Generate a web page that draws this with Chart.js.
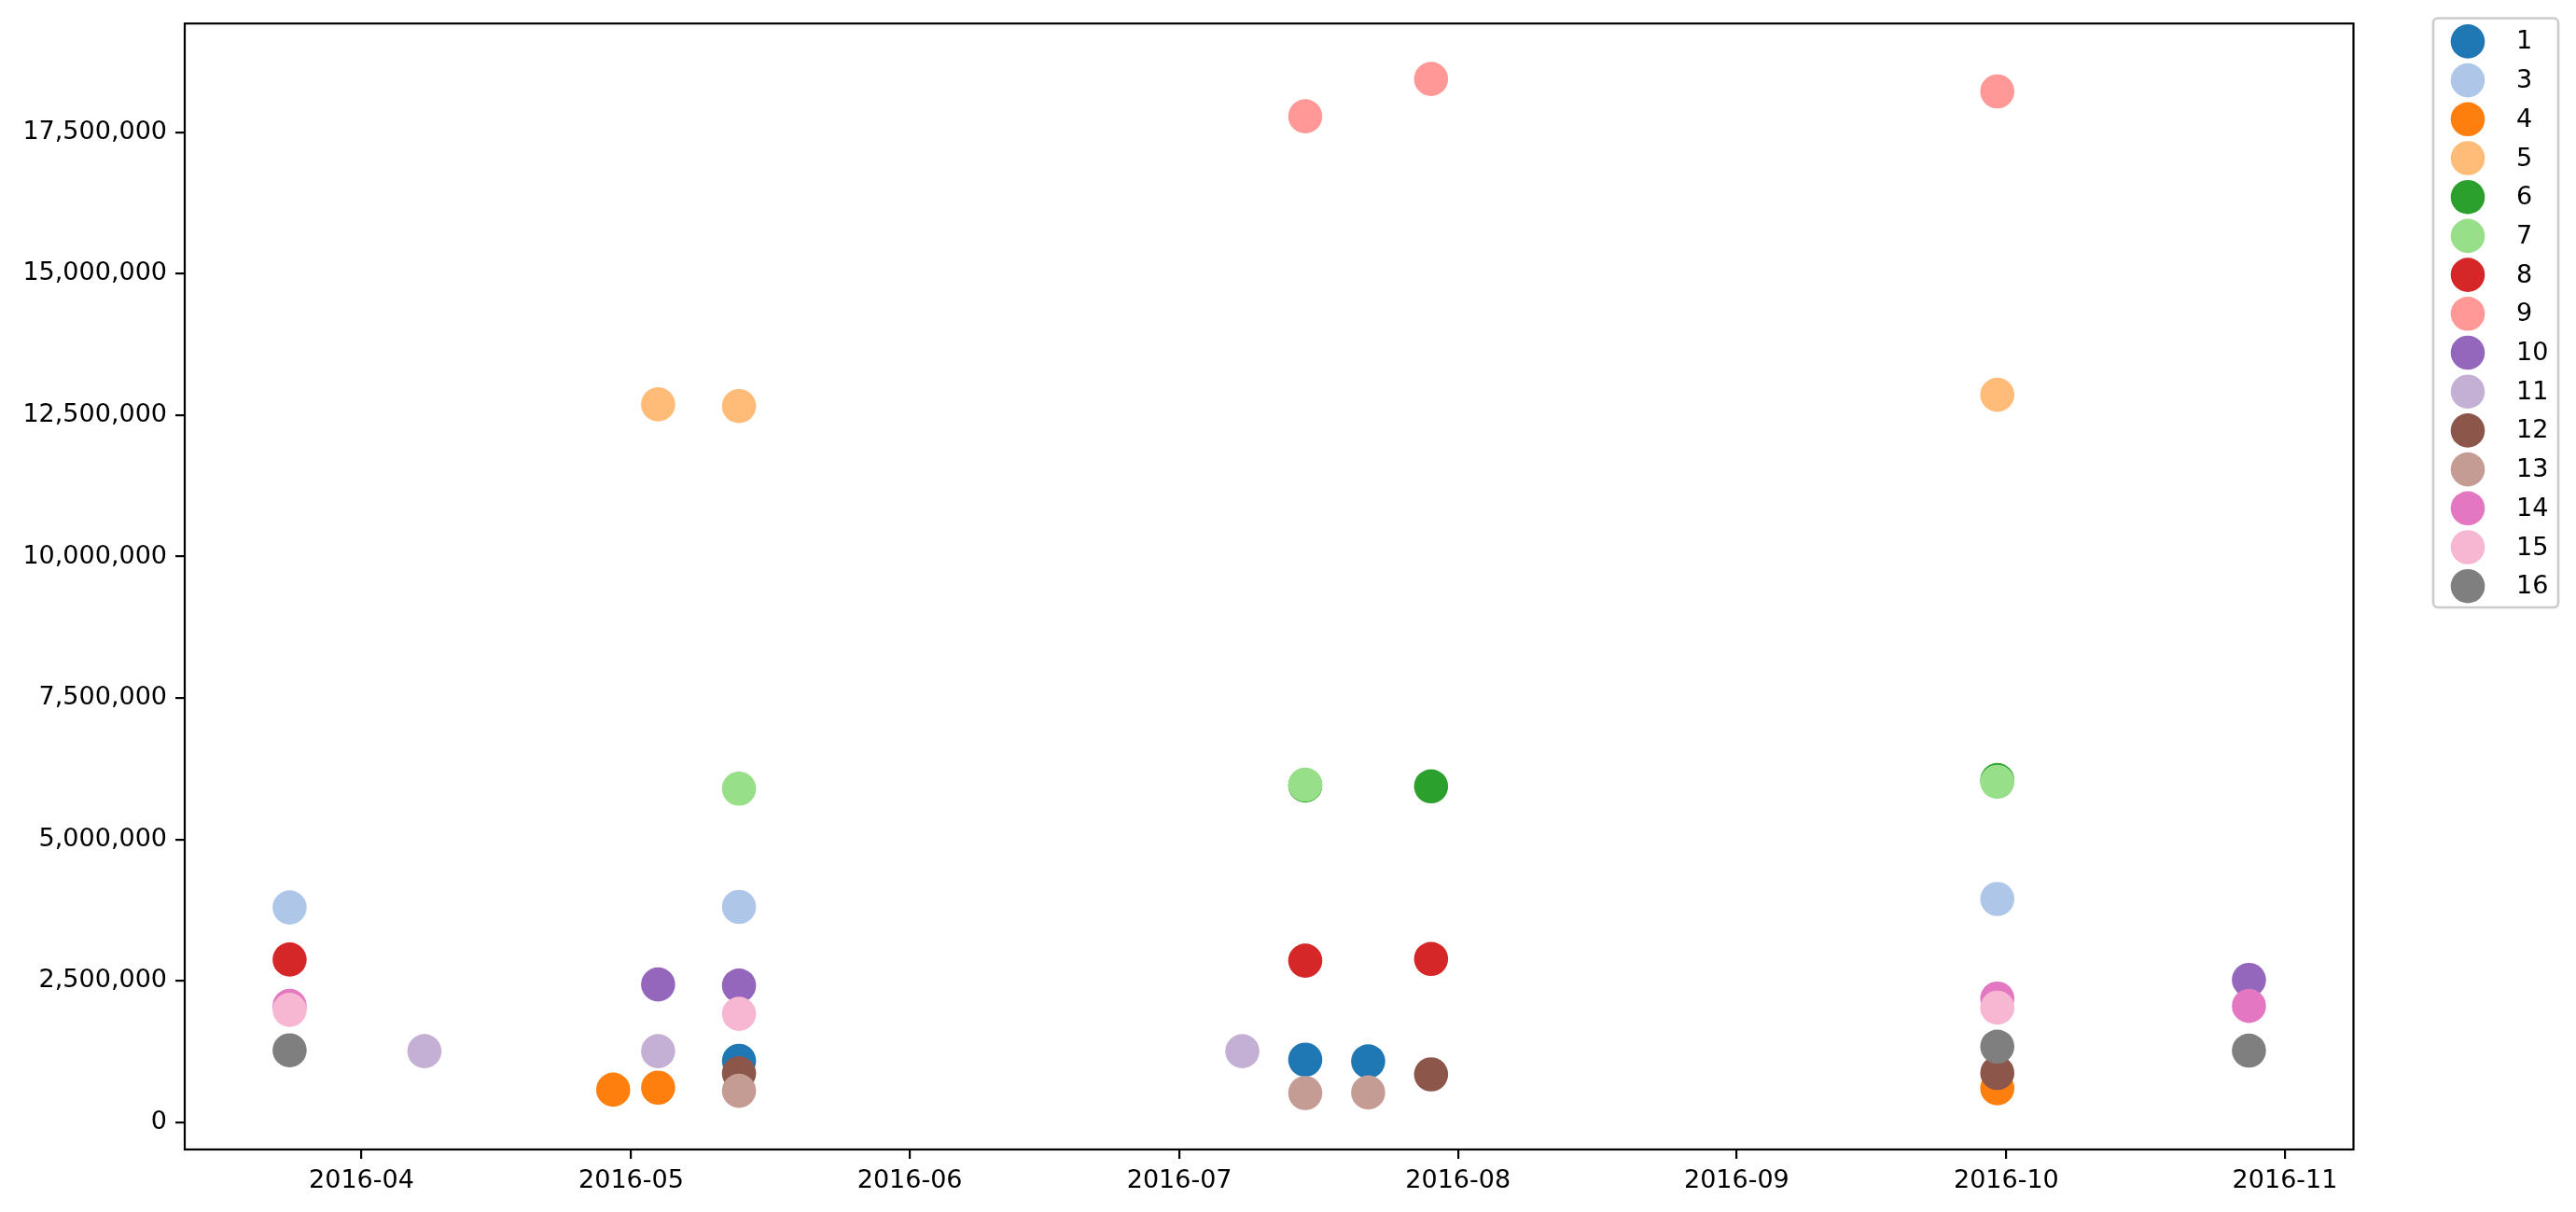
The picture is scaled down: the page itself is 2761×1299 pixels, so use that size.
<!DOCTYPE html>
<html>
<head>
<meta charset="utf-8">
<script src="https://cdn.jsdelivr.net/npm/chart.js@4.4.1/dist/chart.umd.min.js"></script>
<style>
    html, body { margin: 0; padding: 0; background: #fff; }
    #wrap { width: 2761px; height: 1299px; position: relative; }
</style>
</head>
<body>
<div id="wrap"><canvas id="scatterChart"></canvas></div>
<script>
// observation dates (one column of points per date)
const dates = ['2016-03-24', '2016-04-08', '2016-04-29', '2016-05-04', '2016-05-13',
    '2016-07-08', '2016-07-15', '2016-07-22', '2016-07-29', '2016-09-30', '2016-10-28'];

// month ticks on the x axis, value ticks on the y axis
const monthTicks = ['2016-04', '2016-05', '2016-06', '2016-07', '2016-08', '2016-09', '2016-10', '2016-11'];
const valueTicks = [0, 2500000, 5000000, 7500000, 10000000, 12500000, 15000000, 17500000];

const seriesLabels = ['1', '3', '4', '5', '6', '7', '8', '9', '10', '11', '12', '13', '14', '15', '16'];
const seriesColors = ['#1f77b4', '#aec7e8', '#ff7f0e', '#ffbb78', '#2ca02c', '#98df8a', '#d62728', '#ff9896',
    '#9467bd', '#c5b0d5', '#8c564b', '#c49c94', '#e377c2', '#f7b6d2', '#7f7f7f'];

// values per date (null = no point that day)
const s1  = [null, null, null, null, 1090000, null, 1110000, 1080000, null, null, null];
const s3  = [3800000, null, null, null, 3810000, null, null, null, null, 3950000, null];
const s4  = [null, null, 580000, 615000, null, null, null, null, null, 605000, null];
const s5  = [null, null, null, 12690000, 12660000, null, null, null, null, 12860000, null];
const s6  = [null, null, null, null, null, null, 5955000, null, 5940000, 6050000, null];
const s7  = [null, null, null, null, 5900000, null, 5970000, null, null, 6020000, null];
const s8  = [2880000, null, null, null, null, null, 2860000, null, 2890000, null, null];
const s9  = [null, null, null, null, null, null, 17780000, null, 18440000, 18220000, null];
const s10 = [null, null, null, 2440000, 2420000, null, null, null, null, null, 2520000];
const s11 = [null, 1260000, null, 1260000, null, 1260000, null, null, null, null, null];
const s12 = [null, null, null, null, 870000, null, null, null, 850000, 875000, null];
const s13 = [null, null, null, null, 560000, null, 520000, 530000, null, null, null];
const s14 = [2060000, null, null, null, null, null, null, null, null, 2190000, 2060000];
const s15 = [1990000, null, null, null, 1920000, null, null, null, null, 2030000, null];
const s16 = [1276000, null, null, null, null, null, null, null, null, 1340000, 1270000];

const seriesValues = [s1, s3, s4, s5, s6, s7, s8, s9, s10, s11, s12, s13, s14, s15, s16];

function dayNum(str) {
    const p = str.split('-').map(Number);
    return Date.UTC(p[0], p[1] - 1, p[2] || 1) / 86400000;
}

const FONT = 'DejaVu Sans';

// legend box on the right, matplotlib style
const sideLegend = {
    id: 'sideLegend',
    afterDraw(chart) {
        const ctx = chart.ctx;
        ctx.save();
        ctx.beginPath();
        ctx.roundRect(2608, 19.5, 134, 631.5, 5);
        ctx.fillStyle = 'rgba(255,255,255,0.8)';
        ctx.fill();
        ctx.lineWidth = 2.7;
        ctx.strokeStyle = '#cccccc';
        ctx.stroke();
        ctx.font = '27px "' + FONT + '"';
        ctx.textBaseline = 'middle';
        chart.data.datasets.forEach((ds, i) => {
            const y = 44.4 + i * 41.7;
            ctx.beginPath();
            ctx.arc(2645, y, 18.3, 0, Math.PI * 2);
            ctx.fillStyle = ds.backgroundColor;
            ctx.fill();
            ctx.fillStyle = '#000';
            ctx.fillText(ds.label, 2697, y + 1);
        });
        ctx.restore();
    }
};

// full box around the plot area
const axesFrame = {
    id: 'axesFrame',
    afterDraw(chart) {
        const a = chart.chartArea;
        const ctx = chart.ctx;
        ctx.save();
        ctx.lineWidth = 2.2;
        ctx.strokeStyle = '#000';
        ctx.strokeRect(a.left, a.top, a.right - a.left, a.bottom - a.top);
        ctx.restore();
    }
};

function inicializarGrafico() {
    const datasets = seriesLabels.map((label, i) => ({
        label: label,
        data: dates.map((d, j) => ({ x: dayNum(d), y: seriesValues[i][j] })).filter(p => p.y !== null),
        backgroundColor: seriesColors[i],
        borderWidth: 0,
        pointRadius: 18.3,
        pointHoverRadius: 18.3,
        order: seriesLabels.length - i   // later series drawn on top
    }));

    const ctx = document.getElementById('scatterChart').getContext('2d');
    new Chart(ctx, {
        type: 'scatter',
        data: { datasets: datasets },
        plugins: [axesFrame, sideLegend],
        options: {
            responsive: true,
            maintainAspectRatio: false,
            animation: false,
            devicePixelRatio: 1,
            layout: { padding: { top: 23.5, right: 238.5, left: 0, bottom: 0 } },
            plugins: { legend: { display: false }, tooltip: { enabled: false } },
            scales: {
                x: {
                    type: 'linear',
                    min: dayNum('2016-04-01') - 19.67,
                    max: dayNum('2016-11-01') + 7.63,
                    border: { display: false },
                    grid: { drawOnChartArea: false, drawTicks: true, tickLength: 10, color: '#000', lineWidth: 2.2 },
                    afterBuildTicks: (scale) => {
                        scale.ticks = monthTicks.map(m => ({ value: dayNum(m + '-01') }));
                    },
                    afterFit: (scale) => { scale.height = 67; },
                    ticks: {
                        autoSkip: false,
                        maxRotation: 0,
                        minRotation: 0,
                        padding: 8,
                        color: '#000',
                        font: { family: FONT, size: 27 },
                        callback: (v, i) => monthTicks[i]
                    }
                },
                y: {
                    min: -477000,
                    max: 19420000,
                    border: { display: false },
                    grid: { drawOnChartArea: false, drawTicks: true, tickLength: 10, color: '#000', lineWidth: 2.2 },
                    afterBuildTicks: (scale) => {
                        scale.ticks = valueTicks.map(v => ({ value: v }));
                    },
                    afterFit: (scale) => { scale.width = 198; },
                    ticks: {
                        autoSkip: false,
                        padding: 9,
                        color: '#000',
                        font: { family: FONT, size: 27 },
                        callback: (v) => v.toLocaleString('en-US')
                    }
                }
            }
        }
    });
}

window.addEventListener('DOMContentLoaded', inicializarGrafico);
</script>
</body>
</html>
